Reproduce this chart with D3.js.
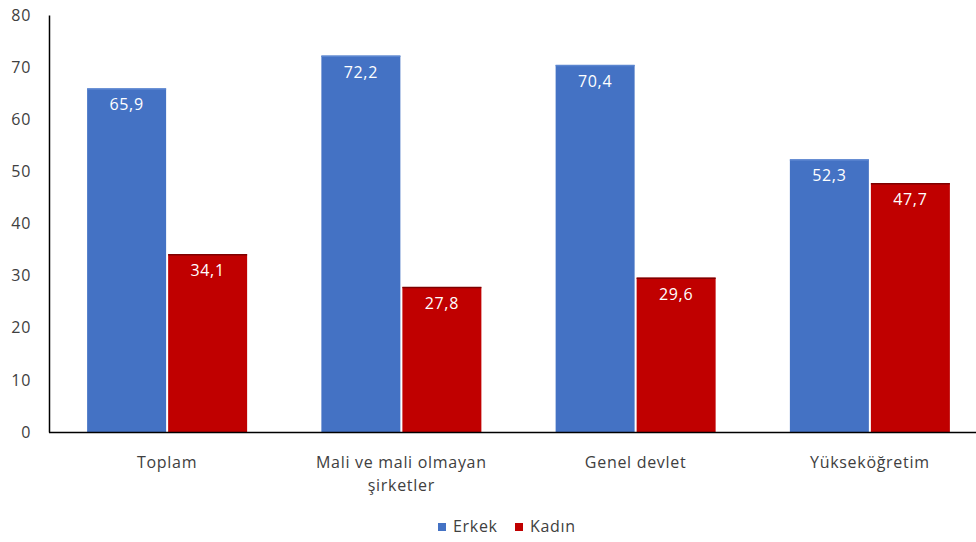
<!DOCTYPE html>
<html>
<head>
<meta charset="utf-8">
<script src="https://cdn.jsdelivr.net/npm/d3@7"></script>
<style>
  html, body { margin: 0; padding: 0; background: #fff; }
  svg { display: block; font-family: "Open Sans", "Noto Sans", sans-serif; }
</style>
</head>
<body>
<svg id="chart" width="976" height="542"></svg>
<script>
// Categories and series
const categories = ["Toplam", "Mali ve mali olmayan şirketler", "Genel devlet", "Yükseköğretim"];
const categoryLines = [["Toplam"], ["Mali ve mali olmayan", "şirketler"], ["Genel devlet"], ["Yükseköğretim"]];
const seriesNames = ["Erkek", "Kadın"];
const erkek = [65.9, 72.2, 70.4, 52.3];
const kadin = [34.1, 27.8, 29.6, 47.7];
const yTicks = [0, 10, 20, 30, 40, 50, 60, 70, 80];

const colors = { "Erkek": "#4472C4", "Kadın": "#C00000" };
const edge = { "Erkek": "#5b86d0", "Kadın": "#7f0000" };

const svg = d3.select("#chart");
const width = 976, height = 542;
const plotLeft = 49, plotTop = 15, plotBottom = 432;
const textColor = "#404040";
const spacing = "0.7px";

const x = d3.scaleBand().domain(categories).range([plotLeft + 1, 987]).paddingInner(0).paddingOuter(0);
const y = d3.scaleLinear().domain([0, 80]).range([plotBottom, plotTop]);

const groupWidth = 160;
const xs = d3.scaleBand().domain(seriesNames).range([0, groupWidth]).paddingInner(0.025);

const data = categories.map((c, i) => ({ cat: c, values: [
  { key: "Erkek", value: erkek[i] },
  { key: "Kadın", value: kadin[i] }
]}));

// Bars
const groups = svg.append("g").selectAll("g").data(data).join("g")
  .attr("transform", d => `translate(${x(d.cat) + (x.bandwidth() - groupWidth) / 2},0)`);

groups.selectAll("rect.bar").data(d => d.values).join("rect")
  .attr("class", "bar")
  .attr("x", d => xs(d.key))
  .attr("y", d => y(d.value))
  .attr("width", xs.bandwidth())
  .attr("height", d => y(0) - y(d.value))
  .attr("fill", d => colors[d.key]);

// thin top edge on each bar
groups.selectAll("line.top").data(d => d.values).join("line")
  .attr("class", "top")
  .attr("x1", d => xs(d.key))
  .attr("x2", d => xs(d.key) + xs.bandwidth())
  .attr("y1", d => y(d.value) + 0.5)
  .attr("y2", d => y(d.value) + 0.5)
  .attr("stroke", d => edge[d.key])
  .attr("stroke-width", 1.5);

// Value labels
groups.selectAll("text.val").data(d => d.values).join("text")
  .attr("class", "val")
  .attr("x", d => xs(d.key) + xs.bandwidth() / 2)
  .attr("y", d => y(d.value) + 22)
  .attr("text-anchor", "middle")
  .attr("fill", "#fff")
  .attr("font-size", 16)
  .style("letter-spacing", spacing)
  .text(d => d.value.toFixed(1).replace(".", ","));

// Y axis
const yAxis = d3.axisLeft(y).tickValues(yTicks).tickSize(0).tickPadding(18);
const gy = svg.append("g").attr("transform", `translate(${plotLeft},0)`).call(yAxis);
gy.select(".domain").attr("stroke", "#000").attr("stroke-width", 1.5);
gy.selectAll("text").attr("font-size", 16).attr("fill", textColor)
  .attr("font-family", "Open Sans, sans-serif").style("letter-spacing", spacing);

// X axis baseline
const xAxis = d3.axisBottom(x).tickSize(0).tickFormat("");
const gx = svg.append("g").attr("transform", `translate(0,${plotBottom})`).call(xAxis);
gx.select(".domain").attr("d", `M${plotLeft},0.5H${width}`).attr("stroke", "#000").attr("stroke-width", 1.5);

// Category labels (wrapped)
svg.append("g").selectAll("text").data(categories).join("text")
  .attr("x", d => x(d) + x.bandwidth() / 2)
  .attr("y", 468)
  .attr("text-anchor", "middle")
  .attr("font-size", 16)
  .attr("fill", textColor)
  .style("letter-spacing", spacing)
  .each(function(d, i) {
    const t = d3.select(this);
    categoryLines[i].forEach((line, j) => {
      t.append("tspan").attr("x", x(d) + x.bandwidth() / 2).attr("dy", j === 0 ? 0 : 23).text(line);
    });
  });

// Legend
const legend = svg.append("g").attr("transform", "translate(438,523)");
const legendItems = legend.selectAll("g").data(seriesNames).join("g")
  .attr("transform", (d, i) => `translate(${i * 77},0)`);
legendItems.append("rect").attr("width", 8).attr("height", 8).attr("fill", d => colors[d]);
legendItems.append("text").attr("x", 15).attr("y", 9).attr("font-size", 16)
  .attr("fill", textColor).style("letter-spacing", spacing).text(d => d);
</script>
</body>
</html>
